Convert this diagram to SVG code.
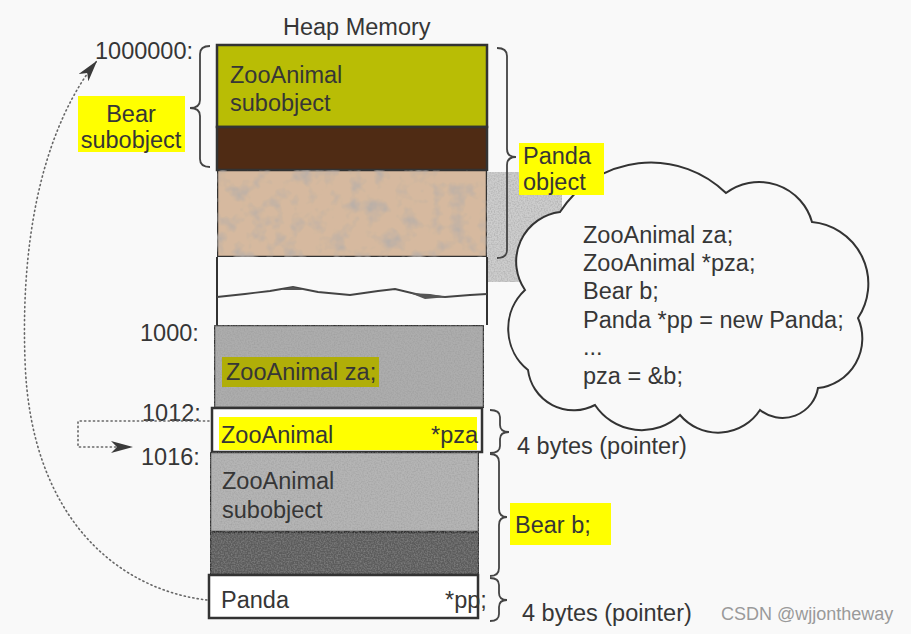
<svg xmlns="http://www.w3.org/2000/svg" width="911" height="634" viewBox="0 0 911 634">
<style>
  text { font-family: "Liberation Sans", Arial, sans-serif; font-size: 23.5px; fill: #363636; }
  .cell { stroke: #333; stroke-width: 2.5; }
  .brace { fill: none; stroke: #444; stroke-width: 1.8; }
  .hl { fill: #ffff00; }
  .dot { fill: none; stroke: #666; stroke-width: 1.6; stroke-dasharray: 1.2 3.2; stroke-linecap: round; }
  .wm { font-size: 18px; fill: #9a9a9a; }
</style>
<defs>
  <filter id="grain" x="0" y="0" width="1" height="1">
    <feTurbulence type="fractalNoise" baseFrequency="0.06" numOctaves="3" seed="7" result="n"/>
    <feColorMatrix in="n" type="matrix" values="0 0 0 0 0.45  0 0 0 0 0.42  0 0 0 0 0.4  0 0 0 -2 1.05" result="spots"/>
    <feComposite in="spots" in2="SourceGraphic" operator="in" result="s"/>
    <feMerge><feMergeNode in="SourceGraphic"/><feMergeNode in="s"/></feMerge>
  </filter>
  <filter id="fine" x="0" y="0" width="1" height="1">
    <feTurbulence type="fractalNoise" baseFrequency="0.7" numOctaves="1" seed="3" result="n"/>
    <feColorMatrix in="n" type="matrix" values="0 0 0 0 0.3  0 0 0 0 0.3  0 0 0 0 0.3  0 0 0 -1.2 0.75" result="spots"/>
    <feComposite in="spots" in2="SourceGraphic" operator="in" result="s"/>
    <feMerge><feMergeNode in="SourceGraphic"/><feMergeNode in="s"/></feMerge>
  </filter>
  <marker id="arr" viewBox="0 0 22 12" refX="20" refY="6" markerWidth="22" markerHeight="12" markerUnits="userSpaceOnUse" orient="auto">
    <path d="M0,0 L22,6 L0,12 L6,6 Z" fill="#3a3a3a"/>
  </marker>
</defs>
<rect width="911" height="634" fill="#f9f9f9"/>

<text id="title" x="283" y="35" fill="#444">Heap Memory</text>

<!-- shadow band between object and cloud -->
<rect x="487" y="172" width="75" height="110" fill="#cdcdcd" filter="url(#fine)"/>

<!-- cloud -->
<g id="cloud">
  <path d="M560,212 A108,108 0 0 1 726,193 A55,55 0 0 1 812,222 A62,62 0 0 1 858,318 A50,50 0 0 1 818,388 A36,36 0 0 1 760,410 A50,50 0 0 1 680,415 A56,56 0 0 1 595,405 A46,46 0 0 1 528,370 A53,53 0 0 1 525,290 A50,50 0 0 1 560,212 Z" fill="#f9f9f9" stroke="#333" stroke-width="2"/>
  <text x="583" y="243">ZooAnimal za;</text>
  <text x="583" y="271">ZooAnimal *pza;</text>
  <text x="583" y="299">Bear b;</text>
  <text x="583" y="328">Panda *pp = new Panda;</text>
  <text x="583" y="355">...</text>
  <text x="583" y="384">pza = &amp;b;</text>
</g>

<!-- Panda object (heap) -->
<g id="panda-heap">
  <rect class="cell" x="217" y="45" width="270" height="82" fill="#b9bd05"/>
  <rect class="cell" x="217" y="127" width="270" height="43" fill="#4f2b14"/>
  <rect class="cell" x="217" y="170" width="270" height="87" fill="#d6b99f" filter="url(#grain)"/>
  <text x="230" y="83">ZooAnimal</text>
  <text x="230" y="111">subobject</text>
</g>

<!-- gap region with break wave -->
<g id="gap">
  <path d="M217,257 V325 M487,257 V325" stroke="#333" stroke-width="2" fill="none"/>
  <path d="M217,297 L245,294 L270,291 L293,287 L318,292 L350,295 L378,291 L395,289 L420,295 L445,297 L470,295 L487,294" stroke="#444" stroke-width="1.8" fill="none"/>
  <path d="M280,290 L293,287 L305,290 Z M410,293 L425,299 L448,297 L430,294 Z" fill="#555"/>
</g>

<!-- ZooAnimal za -->
<g id="za">
  <rect class="cell" x="214" y="325" width="270" height="83" fill="#adadad" filter="url(#fine)"/>
  <rect x="222" y="357" width="157" height="30" fill="#b0ae08"/>
  <text x="226" y="380">ZooAnimal za;</text>
</g>

<!-- ZooAnimal *pza -->
<g id="pza">
  <rect class="cell" x="212" y="408" width="270" height="44" fill="#ffffff"/>
  <rect class="hl" x="219" y="417" width="258" height="33"/>
  <text x="221" y="443">ZooAnimal</text>
  <text x="431" y="443">*pza</text>
</g>

<!-- Bear b -->
<g id="bear-b">
  <rect class="cell" x="210" y="452" width="269" height="80" fill="#b5b5b5" filter="url(#fine)"/>
  <rect class="cell" x="210" y="532" width="269" height="43" fill="#5c5c5c" filter="url(#fine)"/>
  <text x="222" y="489">ZooAnimal</text>
  <text x="222" y="518">subobject</text>
</g>

<!-- Panda *pp -->
<g id="pp">
  <rect class="cell" x="209" y="575" width="269" height="43" fill="#ffffff" stroke-width="2"/>
  <text x="221" y="608">Panda</text>
  <text x="445" y="608">*pp;</text>
</g>

<!-- address labels -->
<g id="addresses">
  <text x="95" y="59">1000000:</text>
  <text x="140" y="341">1000:</text>
  <text x="142" y="421">1012:</text>
  <text x="141" y="465">1016:</text>
</g>

<!-- braces and labels -->
<g id="bear-subobject-label">
  <path class="brace" d="M210,46 Q200,46 200,54 L200,100 Q200,108 190,108 Q200,108 200,116 L200,159 Q200,167 210,167"/>
  <rect class="hl" x="78" y="96" width="107" height="56"/>
  <text x="131" y="122" text-anchor="middle">Bear</text>
  <text x="131" y="148" text-anchor="middle">subobject</text>
</g>
<g id="panda-object-label">
  <path class="brace" d="M497,48 Q507,48 507,56 L507,149 Q507,157 516,157 Q507,157 507,165 L507,250 Q507,258 497,258"/>
  <rect class="hl" x="519" y="143" width="85" height="52"/>
  <text x="523" y="164">Panda</text>
  <text x="523" y="190">object</text>
</g>
<g id="pza-size">
  <path class="brace" d="M490,410 Q500,410 500,417 L500,425 Q500,432 509,432 Q500,432 500,439 L500,446 Q500,453 490,453"/>
  <text x="517" y="454">4 bytes (pointer)</text>
</g>
<g id="bear-b-label">
  <path class="brace" d="M490,454 Q499,454 499,462 L499,509 Q499,517 507,517 Q499,517 499,525 L499,568 Q499,576 490,576"/>
  <rect class="hl" x="510" y="503" width="101" height="42"/>
  <text x="515" y="533">Bear b;</text>
</g>
<g id="pp-size">
  <path class="brace" d="M490,578 Q499,578 499,585 L499,593 Q499,600 507,600 Q499,600 499,607 L499,614 Q499,621 490,621"/>
  <text x="522" y="621">4 bytes (pointer)</text>
</g>

<!-- connectors -->
<g id="connectors">
  <path class="dot" d="M207,600 C120,590 30,520 25,360 C20,220 50,120 96,62" marker-end="url(#arr)"/>
  <path class="dot" d="M209,421 H78 V447 H131" marker-end="url(#arr)"/>
</g>

<text class="wm" x="721" y="620">CSDN @wjjontheway</text>
</svg>
